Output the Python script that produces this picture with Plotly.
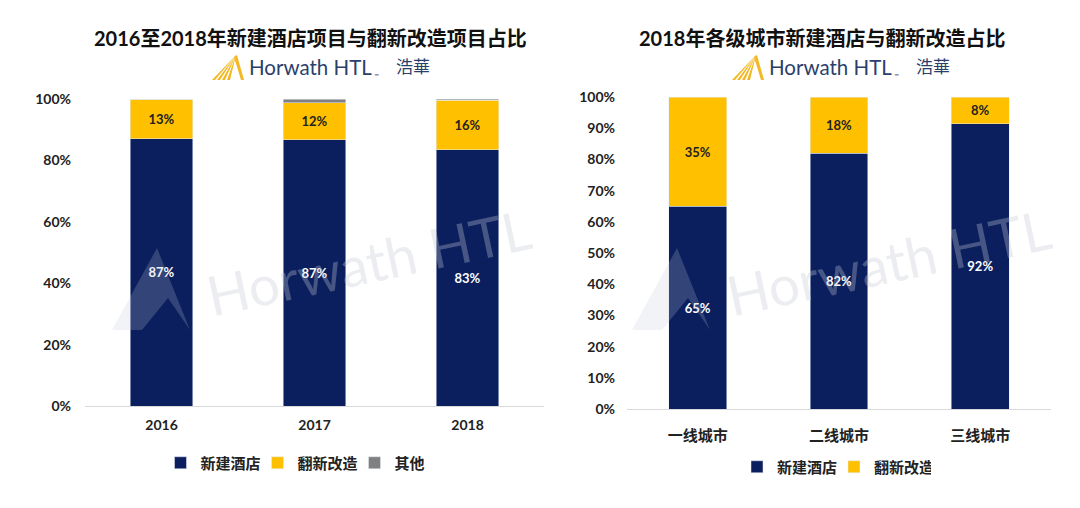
import plotly.graph_objects as go

# ---- data ----
years = ["2016", "2017", "2018"]
new_build_l = [87, 86.8, 83.4]
renov_l = [13, 12.0, 16.2]
other_l = [0, 1.2, 0.4]

cities = ["一线城市", "二线城市", "三线城市"]
new_build_r = [65, 82, 91.5]
renov_r = [35, 18, 8.5]

left_ticks = [0, 20, 40, 60, 80, 100]
right_ticks = [0, 10, 20, 30, 40, 50, 60, 70, 80, 90, 100]

left_title = "2016至2018年新建酒店项目与翻新改造项目占比"
right_title = "2018年各级城市新建酒店与翻新改造占比"
names = ["新建酒店", "翻新改造", "其他"]

NAVY = "#0b1f5e"
GOLD = "#ffc000"
GRAY = "#808080"
FONT = "Lato, 'Noto Sans CJK SC', sans-serif"
OFF = 8  # page body margin
W, H = 1080 - OFF, 508 - OFF


def px(x):
    return (x - OFF) / W


def py(y):
    return 1 - (y - OFF) / H


def lbl(vals):
    return [f"{round(v)}%" if v >= 3 else "" for v in vals]


fig = go.Figure()

white_txt = dict(color="white", size=13, family=FONT, weight="bold")
dark_txt = dict(color="#222222", size=13, family=FONT, weight="bold")

fig.add_trace(go.Bar(x=years, y=new_build_l, name=names[0], marker_color=NAVY,
                     text=lbl(new_build_l), textposition="inside", insidetextanchor="middle",
                     textfont=white_txt, xaxis="x", yaxis="y", legend="legend", hoverinfo="skip"))
fig.add_trace(go.Bar(x=years, y=renov_l, name=names[1], marker_color=GOLD,
                     text=lbl(renov_l), textposition="inside", insidetextanchor="middle",
                     textfont=dark_txt, xaxis="x", yaxis="y", legend="legend", hoverinfo="skip"))
fig.add_trace(go.Bar(x=years, y=other_l, name=names[2], marker_color=GRAY,
                     textposition="none", xaxis="x", yaxis="y", legend="legend", hoverinfo="skip"))

fig.add_trace(go.Bar(x=cities, y=new_build_r, name=names[0], marker_color=NAVY,
                     text=lbl(new_build_r), textposition="inside", insidetextanchor="middle",
                     textfont=white_txt, xaxis="x2", yaxis="y2", legend="legend2", hoverinfo="skip"))
fig.add_trace(go.Bar(x=cities, y=renov_r, name=names[1], marker_color=GOLD,
                     text=lbl(renov_r), textposition="inside", insidetextanchor="middle",
                     textfont=dark_txt, xaxis="x2", yaxis="y2", legend="legend2", hoverinfo="skip"))

tickfont = dict(size=14, family=FONT, color="#222222", weight="bold")
legfont = dict(size=15, family=FONT, color="#222222", weight="bold")

fig.update_layout(
    width=W, height=H,
    margin=dict(l=0, r=0, t=0, b=0, autoexpand=False),
    paper_bgcolor="white", plot_bgcolor="white",
    barmode="stack",
    bargap=0.59,
    uniformtext=dict(minsize=8, mode="show"),
    font=dict(family=FONT),
    showlegend=True,
    xaxis=dict(domain=[px(85), px(544)], anchor="y", showgrid=False, showline=True,
               linecolor="#d9d9d9", linewidth=1, ticks="", tickfont=tickfont,
               ticklabelstandoff=6),
    yaxis=dict(domain=[py(406), py(99)], anchor="x", range=[0, 100], tickmode="array",
               tickvals=left_ticks, ticktext=[f"{t}%" for t in left_ticks],
               showgrid=False, zeroline=False, showline=False, tickfont=tickfont,
               ticklabelstandoff=13),
    xaxis2=dict(domain=[px(627), px(1051)], anchor="y2", showgrid=False, showline=True,
                linecolor="#d9d9d9", linewidth=1, ticks="",
                tickfont=dict(size=15, family=FONT, color="#222222", weight="bold"),
                ticklabelstandoff=13),
    yaxis2=dict(domain=[py(409), py(97)], anchor="x2", range=[0, 100], tickmode="array",
                tickvals=right_ticks, ticktext=[f"{t}%" for t in right_ticks],
                showgrid=False, zeroline=False, showline=False, tickfont=tickfont,
                ticklabelstandoff=11),
    legend=dict(orientation="h", x=px(306), xanchor="center", y=py(463), yanchor="middle",
                font=legfont, traceorder="normal", itemwidth=30,
                entrywidth=52, entrywidthmode="pixels"),
    legend2=dict(orientation="h", x=px(834), xanchor="center", y=py(467), yanchor="middle",
                 font=legfont, traceorder="normal", itemwidth=30,
                 entrywidth=52, entrywidthmode="pixels"),
)

annotations = [
    dict(text=left_title, x=px(310), y=py(38), xref="paper", yref="paper", showarrow=False,
         xanchor="center", yanchor="middle",
         font=dict(size=20, family=FONT, color="#111111", weight="bold")),
    dict(text=right_title, x=px(822), y=py(38), xref="paper", yref="paper", showarrow=False,
         xanchor="center", yanchor="middle",
         font=dict(size=20, family=FONT, color="#111111", weight="bold")),
]
shapes = []
for ox in [0, 520]:
    annotations.append(dict(text="Horwath HTL", x=px(247 + ox), y=py(67), xref="paper", yref="paper",
                            xanchor="left", yanchor="middle", showarrow=False,
                            font=dict(size=20.5, family="Lato, sans-serif", color="#2b3f6c")))
    annotations.append(dict(text="™", x=px(372 + ox), y=py(75), xref="paper", yref="paper",
                            xanchor="left", yanchor="middle", showarrow=False,
                            font=dict(size=6, family="Lato, sans-serif", color="#2b3f6c")))
    annotations.append(dict(text="浩華", x=px(394 + ox), y=py(66), xref="paper", yref="paper",
                            xanchor="left", yanchor="middle", showarrow=False,
                            font=dict(size=17, family="'Noto Sans CJK SC'", color="#2b3f6c")))
    # gold mountain logo (stripes)
    x0 = 212 + ox
    for k in range(4):
        a = x0 + k * 5
        path = (f"M {px(a)},{py(80)} L {px(x0+24)},{py(55)} L {px(a+3)},{py(80)} Z")
        shapes.append(dict(type="path", path=path, xref="paper", yref="paper",
                           fillcolor="#f2b825", line=dict(width=0)))
    path = (f"M {px(x0+22)},{py(57)} L {px(x0+25)},{py(55)} L {px(x0+32)},{py(80)} L {px(x0+29)},{py(80)} Z")
    shapes.append(dict(type="path", path=path, xref="paper", yref="paper",
                       fillcolor="#f2b825", line=dict(width=0)))
    # watermark
    annotations.append(dict(text="Horwath HTL", x=px(368 + ox), y=py(262), xref="paper", yref="paper",
                            xanchor="center", yanchor="middle", showarrow=False, textangle=-12,
                            font=dict(size=55, family="Lato, sans-serif", color="rgba(195,200,212,0.33)")))
    wx0 = 112 + ox
    wpath = (f"M {px(wx0)},{py(330)} L {px(wx0+45)},{py(248)} L {px(wx0+78)},{py(330)} "
             f"L {px(wx0+56)},{py(298)} L {px(wx0+30)},{py(330)} Z")
    shapes.append(dict(type="path", path=wpath, xref="paper", yref="paper",
                       fillcolor="rgba(195,200,212,0.22)", line=dict(width=0)))

fig.update_layout(annotations=annotations, shapes=shapes)
fig.write_html("out.html")
